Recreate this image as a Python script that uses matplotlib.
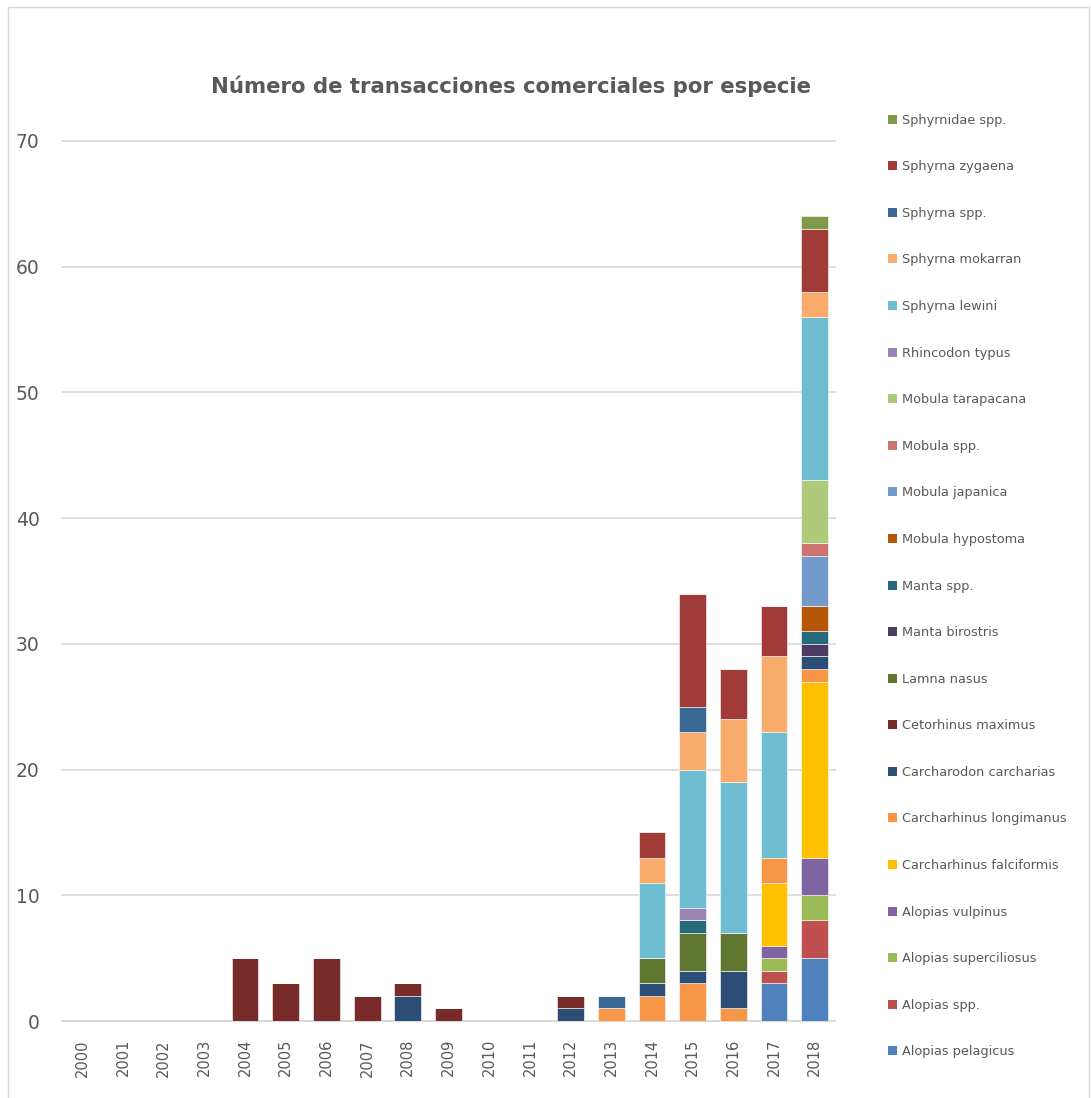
import matplotlib
matplotlib.use("Agg")
import matplotlib.pyplot as plt
import numpy as np
from matplotlib.patches import Rectangle, Patch

YEARS = [str(y) for y in range(2000, 2019)]

# species in stacking order (bottom -> top)
SPECIES = [
    "Alopias pelagicus", "Alopias spp.", "Alopias superciliosus", "Alopias vulpinus",
    "Carcharhinus falciformis", "Carcharhinus longimanus", "Carcharodon carcharias",
    "Cetorhinus maximus", "Lamna nasus", "Manta birostris", "Manta spp.",
    "Mobula hypostoma", "Mobula japanica", "Mobula spp.", "Mobula tarapacana",
    "Rhincodon typus", "Sphyrna lewini", "Sphyrna mokarran", "Sphyrna spp.",
    "Sphyrna zygaena", "Sphyrnidae spp.",
]

COLORS = [
    "#4F81BD", "#C0504D", "#9BBB59", "#8064A2",
    "#FFC000", "#F79646", "#2C4D75",
    "#772C2A", "#5F7530", "#4D3B62", "#276A7C",
    "#B65708", "#729ACA", "#CD7371", "#AFC97A",
    "#9983B5", "#6FBDD1", "#F9AB6B", "#3A6998",
    "#A03B38", "#7F9A48",
]

# counts per year 2000..2018
alopias_pelagicus        = [0, 0, 0, 0, 0, 0, 0, 0, 0, 0, 0, 0, 0, 0, 0, 0, 0, 3, 5]
alopias_spp              = [0, 0, 0, 0, 0, 0, 0, 0, 0, 0, 0, 0, 0, 0, 0, 0, 0, 1, 3]
alopias_superciliosus    = [0, 0, 0, 0, 0, 0, 0, 0, 0, 0, 0, 0, 0, 0, 0, 0, 0, 1, 2]
alopias_vulpinus         = [0, 0, 0, 0, 0, 0, 0, 0, 0, 0, 0, 0, 0, 0, 0, 0, 0, 1, 3]
carcharhinus_falciformis = [0, 0, 0, 0, 0, 0, 0, 0, 0, 0, 0, 0, 0, 0, 0, 0, 0, 5, 14]
carcharhinus_longimanus  = [0, 0, 0, 0, 0, 0, 0, 0, 0, 0, 0, 0, 0, 1, 2, 3, 1, 2, 1]
carcharodon_carcharias   = [0, 0, 0, 0, 0, 0, 0, 0, 2, 0, 0, 0, 1, 0, 1, 1, 3, 0, 1]
cetorhinus_maximus       = [0, 0, 0, 0, 5, 3, 5, 2, 1, 1, 0, 0, 1, 0, 0, 0, 0, 0, 0]
lamna_nasus              = [0, 0, 0, 0, 0, 0, 0, 0, 0, 0, 0, 0, 0, 0, 2, 3, 3, 0, 0]
manta_birostris          = [0, 0, 0, 0, 0, 0, 0, 0, 0, 0, 0, 0, 0, 0, 0, 0, 0, 0, 1]
manta_spp                = [0, 0, 0, 0, 0, 0, 0, 0, 0, 0, 0, 0, 0, 0, 0, 1, 0, 0, 1]
mobula_hypostoma         = [0, 0, 0, 0, 0, 0, 0, 0, 0, 0, 0, 0, 0, 0, 0, 0, 0, 0, 2]
mobula_japanica          = [0, 0, 0, 0, 0, 0, 0, 0, 0, 0, 0, 0, 0, 0, 0, 0, 0, 0, 4]
mobula_spp               = [0, 0, 0, 0, 0, 0, 0, 0, 0, 0, 0, 0, 0, 0, 0, 0, 0, 0, 1]
mobula_tarapacana        = [0, 0, 0, 0, 0, 0, 0, 0, 0, 0, 0, 0, 0, 0, 0, 0, 0, 0, 5]
rhincodon_typus          = [0, 0, 0, 0, 0, 0, 0, 0, 0, 0, 0, 0, 0, 0, 0, 1, 0, 0, 0]
sphyrna_lewini           = [0, 0, 0, 0, 0, 0, 0, 0, 0, 0, 0, 0, 0, 0, 6, 11, 12, 10, 13]
sphyrna_mokarran         = [0, 0, 0, 0, 0, 0, 0, 0, 0, 0, 0, 0, 0, 0, 2, 3, 5, 6, 2]
sphyrna_spp              = [0, 0, 0, 0, 0, 0, 0, 0, 0, 0, 0, 0, 0, 1, 0, 2, 0, 0, 0]
sphyrna_zygaena          = [0, 0, 0, 0, 0, 0, 0, 0, 0, 0, 0, 0, 0, 0, 2, 9, 4, 4, 5]
sphyrnidae_spp           = [0, 0, 0, 0, 0, 0, 0, 0, 0, 0, 0, 0, 0, 0, 0, 0, 0, 0, 1]

VALUES = [
    alopias_pelagicus, alopias_spp, alopias_superciliosus, alopias_vulpinus,
    carcharhinus_falciformis, carcharhinus_longimanus, carcharodon_carcharias,
    cetorhinus_maximus, lamna_nasus, manta_birostris, manta_spp,
    mobula_hypostoma, mobula_japanica, mobula_spp, mobula_tarapacana,
    rhincodon_typus, sphyrna_lewini, sphyrna_mokarran, sphyrna_spp,
    sphyrna_zygaena, sphyrnidae_spp,
]

TEXT = "#595959"

fig = plt.figure(figsize=(10.91, 10.98), dpi=100)
ax = fig.add_axes([0.0568, 0.0701, 0.7086, 0.8015])

x = np.arange(len(YEARS))
bottom = np.zeros(len(YEARS))
for name, vals, color in zip(SPECIES, VALUES, COLORS):
    vals = np.array(vals, dtype=float)
    ax.bar(x, vals, 0.66, bottom=bottom, color=color, edgecolor="white",
           linewidth=0.4, label=name, zorder=3)
    bottom += vals

ax.set_xlim(-0.5, len(YEARS) - 0.5)
ax.set_ylim(0, 70)
ax.set_yticks(range(0, 71, 10))
ax.yaxis.grid(True, color="#D9D9D9", linewidth=1.2, zorder=0, clip_on=False)
ax.set_xticks(x)
ax.set_xticklabels(YEARS, rotation=90, fontsize=10.5, color=TEXT)
ax.tick_params(axis="y", labelsize=13.5, colors=TEXT, length=0, pad=16)
ax.tick_params(axis="x", length=0, pad=13)
for side in ("left", "right", "top"):
    ax.spines[side].set_visible(False)
ax.spines["bottom"].set_color("#D9D9D9")
ax.spines["bottom"].set_linewidth(1.2)

fig.text(0.468, 0.921, "Número de transacciones comerciales por especie",
         ha="center", va="center", fontsize=15.3, fontweight="bold", color=TEXT)

handles = [Patch(facecolor=c, label=n) for n, c in zip(SPECIES, COLORS)][::-1]
fig.legend(handles=handles, loc="upper left", bbox_to_anchor=(0.803, 0.907),
           frameon=False, fontsize=9.3, labelcolor=TEXT, labelspacing=2.6,
           handlelength=0.7, handleheight=0.7, handletextpad=0.4)

fig.patches.append(Rectangle((0.007, -0.01), 0.991, 1.004, transform=fig.transFigure,
                             fill=False, edgecolor="#D9D9D9", linewidth=1))

fig.savefig("out.png", dpi=100)
